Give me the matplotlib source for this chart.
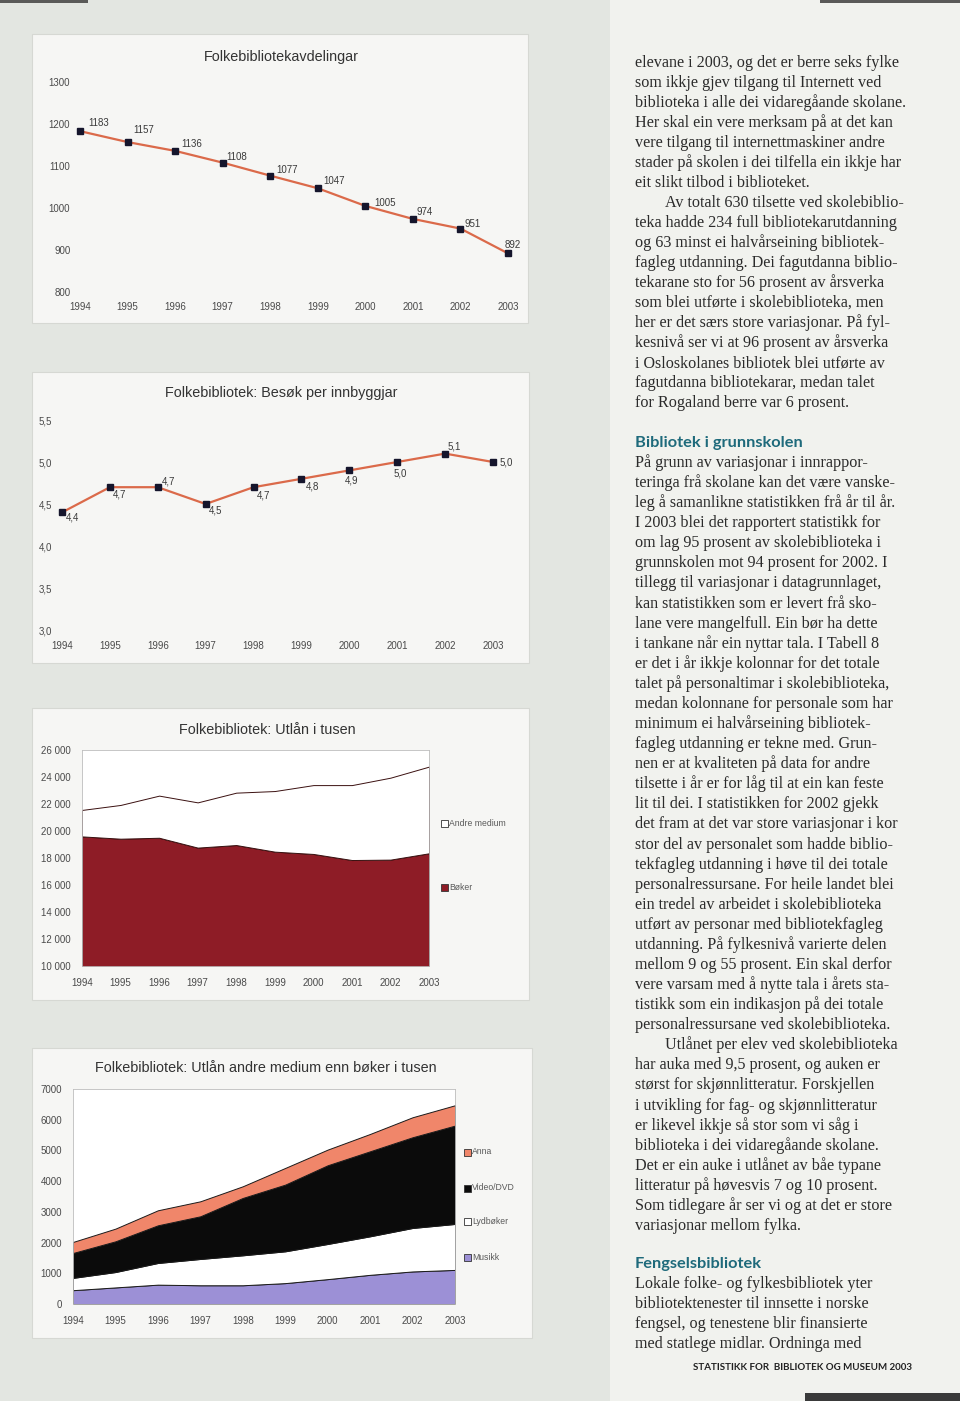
import matplotlib
matplotlib.use("Agg")
import matplotlib.pyplot as plt
from matplotlib.patches import Rectangle
import matplotlib.ticker as mticker

# ---------------- data ----------------
years = [1994, 1995, 1996, 1997, 1998, 1999, 2000, 2001, 2002, 2003]

avdelingar = [1183, 1157, 1136, 1108, 1077, 1047, 1005, 974, 951, 892]
besok = [4.4, 4.7, 4.7, 4.5, 4.7, 4.8, 4.9, 5.0, 5.1, 5.0]

utlan_boker = [19600, 19430, 19500, 18770, 18960, 18470, 18300, 17850, 17880, 18350]
utlan_andre = [1960, 2500, 3120, 3350, 3880, 4490, 5100, 5550, 6070, 6420]

musikk = [450, 540, 630, 610, 610, 680, 810, 950, 1060, 1110]
lydboker = [400, 500, 705, 856, 975, 1035, 1144, 1254, 1415, 1496]
video_dvd = [811, 1001, 1227, 1390, 1868, 2172, 2563, 2769, 2954, 3203]
anna = [359, 413, 489, 488, 380, 543, 510, 564, 651, 662]

# ---------------- figure ----------------
W, H = 960, 1401
fig = plt.figure(figsize=(W / 100, H / 100), dpi=100)
fig.patch.set_facecolor("#F1F2EE")


def rect(x0, y0, x1, y1):
    return [x0 / W, 1 - y1 / H, (x1 - x0) / W, (y1 - y0) / H]


def fx(x):
    return x / W


def fy(y):
    return 1 - y / H


def fig_box(x0, y0, x1, y1, **kw):
    fig.add_artist(Rectangle((fx(x0), fy(y1)), (x1 - x0) / W, (y1 - y0) / H,
                             transform=fig.transFigure, **kw))


# page backgrounds and scan edges
fig_box(0, 0, 610, H, facecolor="#E3E6E1", edgecolor="none", zorder=-3)
fig_box(0, 0, 88, 3, facecolor="#5A5A58", edgecolor="none", zorder=-3)
fig_box(820, 0, 960, 3, facecolor="#5A5A58", edgecolor="none", zorder=-3)
fig_box(805, 1393, 960, 1401, facecolor="#3A3A3A", edgecolor="none", zorder=-3)

panels = [(32, 34, 528, 323), (32, 372, 529, 663), (32, 708, 529, 1000), (32, 1048, 532, 1338)]
for (x0, y0, x1, y1) in panels:
    fig_box(x0, y0, x1, y1, facecolor="#F6F6F4", edgecolor="#D6D8D3", lw=0.8, zorder=-2)

SANS = "Liberation Sans"
TICK_C = "#4A4A4A"
LINE_C = "#DB6A4A"
MARK_C = "#15152C"
TITLE_FS = 10.4


def style_line_axes(ax, pad_x, pad_y):
    ax.set_facecolor("none")
    for s in ax.spines.values():
        s.set_visible(False)
    ax.tick_params(axis="both", length=0, labelsize=7, labelcolor=TICK_C)
    ax.tick_params(axis="x", pad=pad_x)
    ax.tick_params(axis="y", pad=pad_y)
    for lab in ax.get_xticklabels() + ax.get_yticklabels():
        lab.set_family(SANS)


# ---------- chart 1 ----------
ax1 = fig.add_axes(rect(80, 82, 508, 292))
ax1.plot(years, avdelingar, color=LINE_C, lw=1.6, marker="s", ms=4.6,
         mfc=MARK_C, mec=MARK_C, zorder=3, clip_on=False)
ax1.set_xlim(1994, 2003)
ax1.set_ylim(800, 1300)
ax1.set_xticks(years)
ax1.set_yticks([800, 900, 1000, 1100, 1200, 1300])
style_line_axes(ax1, 7, 7)
off1 = [(8, 8), (6, 12), (6, 7), (4, 6), (6, 6), (6, 7), (9, 3), (4, 7), (4, 5), (-3, 8)]
for x, v, (dx, dy) in zip(years, avdelingar, off1):
    ax1.annotate(str(v), (x, v), xytext=(dx, dy), textcoords="offset pixels",
                 ha="left", va="center", fontsize=7, color="#3A3A3A", family=SANS)
fig.text(fx(281), fy(57), "Folkebibliotekavdelingar", ha="center", va="center",
         fontsize=TITLE_FS, color="#333333", family=SANS)

# ---------- chart 2 ----------
ax2 = fig.add_axes(rect(62, 420, 493, 630))
ax2.plot(years, besok, color=LINE_C, lw=1.6, marker="s", ms=4.6,
         mfc=MARK_C, mec=MARK_C, zorder=3, clip_on=False)
ax2.set_xlim(1994, 2003)
ax2.set_ylim(3.0, 5.5)
ax2.set_xticks(years)
ax2.set_yticks([3.0, 3.5, 4.0, 4.5, 5.0, 5.5])
ax2.yaxis.set_major_formatter(mticker.FuncFormatter(lambda v, p: f"{v:.1f}".replace(".", ",")))
style_line_axes(ax2, 8, 7)
off2 = [(4, -5, "left"), (3, -7, "left"), (4, 6, "left"), (3, -6, "left"), (3, -8, "left"),
        (4, -8, "left"), (2, -10, "center"), (3, -11, "center"), (2, 7, "left"), (7, 0, "left")]
for x, v, (dx, dy, ha) in zip(years, besok, off2):
    ax2.annotate(f"{v:.1f}".replace(".", ","), (x, v), xytext=(dx, dy), textcoords="offset pixels",
                 ha=ha, va="center", fontsize=7, color="#3A3A3A", family=SANS)
fig.text(fx(281), fy(393), "Folkebibliotek: Besøk per innbyggjar", ha="center", va="center",
         fontsize=TITLE_FS, color="#333333", family=SANS)


def style_area_axes(ax):
    ax.set_facecolor("#FFFFFF")
    for s in ax.spines.values():
        s.set_color("#BDBDBD")
        s.set_linewidth(0.6)
    ax.tick_params(axis="both", length=0, labelsize=7, labelcolor=TICK_C)
    ax.tick_params(axis="x", pad=9)
    ax.tick_params(axis="y", pad=8)
    for lab in ax.get_xticklabels() + ax.get_yticklabels():
        lab.set_family(SANS)


def legend_item(x, y, color, label):
    fig.add_artist(Rectangle((fx(x - 3.5), fy(y + 3.5)), 7 / W, 7 / H, transform=fig.transFigure,
                             facecolor=color, edgecolor="#333333", lw=0.6, zorder=3))
    fig.text(fx(x + 5), fy(y), label, ha="left", va="center", fontsize=6.2,
             color="#5A5A5A", family=SANS)


# ---------- chart 3 ----------
BOK_C = "#8E1C26"
ax3 = fig.add_axes(rect(82, 750, 429, 966))
ax3.stackplot(years, utlan_boker, utlan_andre, colors=[BOK_C, "#FFFFFF"],
              edgecolor="#3A1010", linewidth=0.7)
ax3.set_xlim(1994, 2003)
ax3.set_ylim(10000, 26000)
ax3.set_xticks(years)
ax3.set_yticks(range(10000, 26001, 2000))
ax3.yaxis.set_major_formatter(mticker.FuncFormatter(lambda v, p: f"{int(v):,}".replace(",", " ")))
style_area_axes(ax3)
fig.text(fx(267), fy(730), "Folkebibliotek: Utlån i tusen", ha="center", va="center",
         fontsize=TITLE_FS, color="#333333", family=SANS)
legend_item(444, 823, "#FFFFFF", "Andre medium")
legend_item(444, 887, BOK_C, "Bøker")

# ---------- chart 4 ----------
MUS_C = "#9C90D6"
VID_C = "#0B0B0B"
ANNA_C = "#F0866A"
ax4 = fig.add_axes(rect(73, 1089, 455, 1304))
ax4.stackplot(years, musikk, lydboker, video_dvd, anna,
              colors=[MUS_C, "#FFFFFF", VID_C, ANNA_C], edgecolor="#1A1A1A", linewidth=0.7)
ax4.set_xlim(1994, 2003)
ax4.set_ylim(0, 7000)
ax4.set_xticks(years)
ax4.set_yticks(range(0, 7001, 1000))
style_area_axes(ax4)
fig.text(fx(266), fy(1068), "Folkebibliotek: Utlån andre medium enn bøker i tusen", ha="center",
         va="center", fontsize=TITLE_FS, color="#333333", family=SANS)
legend_item(467, 1152, ANNA_C, "Anna")
legend_item(467, 1188, VID_C, "Video/DVD")
legend_item(467, 1221, "#FFFFFF", "Lydbøker")
legend_item(467, 1257, MUS_C, "Musikk")

# ---------------- text column ----------------
SERIF = "Liberation Serif"
TXT_C = "#2B2B2B"
HEAD_C = "#1E6A7B"
TX = 635
IND = 30
BODY_FS = 11.6

block1 = [
    ("elevane i 2003, og det er berre seks fylke", 0),
    ("som ikkje gjev tilgang til Internett ved", 0),
    ("biblioteka i alle dei vidaregåande skolane.", 0),
    ("Her skal ein vere merksam på at det kan", 0),
    ("vere tilgang til internettmaskiner andre", 0),
    ("stader på skolen i dei tilfella ein ikkje har", 0),
    ("eit slikt tilbod i biblioteket.", 0),
    ("Av totalt 630 tilsette ved skolebiblio-", 1),
    ("teka hadde 234 full bibliotekarutdanning", 0),
    ("og 63 minst ei halvårseining bibliotek-", 0),
    ("fagleg utdanning. Dei fagutdanna biblio-", 0),
    ("tekarane sto for 56 prosent av årsverka", 0),
    ("som blei utførte i skolebiblioteka, men", 0),
    ("her er det særs store variasjonar. På fyl-", 0),
    ("kesnivå ser vi at 96 prosent av årsverka", 0),
    ("i Osloskolanes bibliotek blei utførte av", 0),
    ("fagutdanna bibliotekarar, medan talet", 0),
    ("for Rogaland berre var 6 prosent.", 0),
]
block2 = [
    ("På grunn av variasjonar i innrappor-", 0),
    ("teringa frå skolane kan det være vanske-", 0),
    ("leg å samanlikne statistikken frå år til år.", 0),
    ("I 2003 blei det rapportert statistikk for", 0),
    ("om lag 95 prosent av skolebiblioteka i", 0),
    ("grunnskolen mot 94 prosent for 2002. I", 0),
    ("tillegg til variasjonar i datagrunnlaget,", 0),
    ("kan statistikken som er levert frå sko-", 0),
    ("lane vere mangelfull. Ein bør ha dette", 0),
    ("i tankane når ein nyttar tala. I Tabell 8", 0),
    ("er det i år ikkje kolonnar for det totale", 0),
    ("talet på personaltimar i skolebiblioteka,", 0),
    ("medan kolonnane for personale som har", 0),
    ("minimum ei halvårseining bibliotek-", 0),
    ("fagleg utdanning er tekne med. Grun-", 0),
    ("nen er at kvaliteten på data for andre", 0),
    ("tilsette i år er for låg til at ein kan feste", 0),
    ("lit til dei. I statistikken for 2002 gjekk", 0),
    ("det fram at det var store variasjonar i kor", 0),
    ("stor del av personalet som hadde biblio-", 0),
    ("tekfagleg utdanning i høve til dei totale", 0),
    ("personalressursane. For heile landet blei", 0),
    ("ein tredel av arbeidet i skolebiblioteka", 0),
    ("utført av personar med bibliotekfagleg", 0),
    ("utdanning. På fylkesnivå varierte delen", 0),
    ("mellom 9 og 55 prosent. Ein skal derfor", 0),
    ("vere varsam med å nytte tala i årets sta-", 0),
    ("tistikk som ein indikasjon på dei totale", 0),
    ("personalressursane ved skolebiblioteka.", 0),
    ("Utlånet per elev ved skolebiblioteka", 1),
    ("har auka med 9,5 prosent, og auken er", 0),
    ("størst for skjønnlitteratur. Forskjellen", 0),
    ("i utvikling for fag- og skjønnlitteratur", 0),
    ("er likevel ikkje så stor som vi såg i", 0),
    ("biblioteka i dei vidaregåande skolane.", 0),
    ("Det er ein auke i utlånet av båe typane", 0),
    ("litteratur på høvesvis 7 og 10 prosent.", 0),
    ("Som tidlegare år ser vi og at det er store", 0),
    ("variasjonar mellom fylka.", 0),
]
block3 = [
    ("Lokale folke- og fylkesbibliotek yter", 0),
    ("bibliotektenester til innsette i norske", 0),
    ("fengsel, og tenestene blir finansierte", 0),
    ("med statlege midlar. Ordninga med", 0),
]


def draw_block(lines, y0, step):
    for i, (t, ind) in enumerate(lines):
        fig.text(fx(TX + IND * ind), fy(y0 + step * i + 5), t, ha="left", va="baseline",
                 fontsize=BODY_FS, color=TXT_C, family=SERIF)


draw_block(block1, 62, 20.0)
fig.text(fx(TX), fy(447), "Bibliotek i grunnskolen", ha="left", va="baseline",
         fontsize=11.8, color=HEAD_C, family="Lato", fontweight="bold")
draw_block(block2, 462, 20.08)
fig.text(fx(TX), fy(1268), "Fengselsbibliotek", ha="left", va="baseline",
         fontsize=11.8, color=HEAD_C, family="Lato", fontweight="bold")
draw_block(block3, 1283, 20.0)
fig.text(fx(912), fy(1367), "STATISTIKK FOR  BIBLIOTEK OG MUSEUM 2003", ha="right", va="center",
         fontsize=7.0, color="#222222", family="Lato", fontweight="bold")

fig.savefig("out.png", dpi=100, facecolor=fig.get_facecolor())
